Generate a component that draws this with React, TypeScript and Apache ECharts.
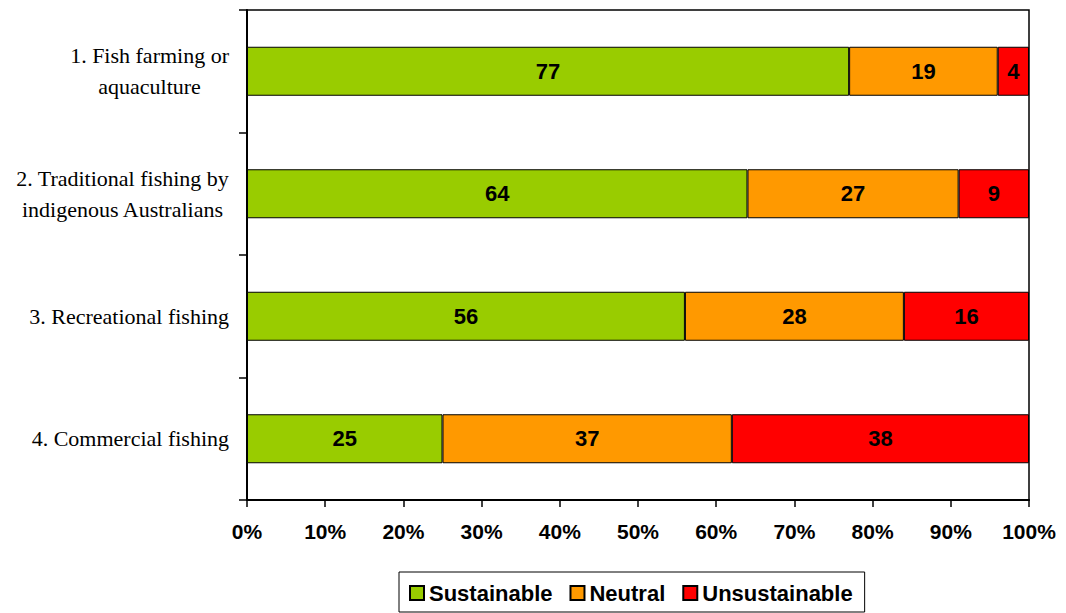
import React, { useEffect, useRef } from "react";
import * as echarts from "echarts";

const categories = [
  "1. Fish farming or\naquaculture",
  "2. Traditional fishing by\nindigenous Australians",
  "3. Recreational fishing",
  "4. Commercial fishing",
];
const sustainable = [77, 64, 56, 25];
const neutral = [19, 27, 28, 37];
const unsustainable = [4, 9, 16, 38];
const seriesNames = ["Sustainable", "Neutral", "Unsustainable"];
const seriesColors = ["#99CC00", "#FF9900", "#FF0000"];

export default function App() {
  const ref = useRef<HTMLDivElement>(null);
  useEffect(() => {
    if (!ref.current) return;
    const chart = echarts.init(ref.current, null, { renderer: "svg" });
    const sansBold = {
      fontFamily: "'Liberation Sans', Arial, sans-serif",
      fontWeight: "bold" as const,
      color: "#000",
    };
    const serif = "'Liberation Serif', 'Times New Roman', serif";
    const values = [sustainable, neutral, unsustainable];
    chart.setOption({
      animation: false,
      backgroundColor: "#fff",
      grid: {
        left: 247,
        right: 37,
        top: 10,
        bottom: 113,
        show: true,
        borderColor: "#000",
        borderWidth: 1.5,
        containLabel: false,
      },
      legend: {
        left: 399,
        top: 572,
        orient: "horizontal",
        data: seriesNames,
        icon: "rect",
        itemWidth: 14,
        itemHeight: 14,
        itemGap: 17,
        padding: [10, 12, 8, 10],
        borderColor: "#000",
        borderWidth: 1,
        textStyle: { ...sansBold, fontSize: 22 },
      },
      xAxis: {
        type: "value",
        min: 0,
        max: 100,
        interval: 10,
        axisLine: { show: true, lineStyle: { color: "#000", width: 2 } },
        axisTick: { show: true, length: 7, lineStyle: { color: "#000", width: 1.5 } },
        splitLine: { show: false },
        axisLabel: {
          ...sansBold,
          fontSize: 21,
          margin: 21,
          formatter: "{value}%",
        },
      },
      yAxis: {
        type: "category",
        inverse: true,
        data: categories,
        axisLine: { show: true, lineStyle: { color: "#000", width: 2 } },
        axisTick: { show: true, length: 8, inside: false, lineStyle: { color: "#000", width: 1.5 } },
        axisLabel: {
          margin: 18,
          align: "right",
          fontFamily: serif,
          fontSize: 22,
          color: "#000",
          lineHeight: 31,
          formatter: (v: string) =>
            v
              .split("\n")
              .map((l) => `{c|${l}}`)
              .join("\n"),
          rich: {
            c: {
              align: "center",
              fontFamily: serif,
              fontSize: 22,
              color: "#000",
              lineHeight: 31,
            },
          },
        },
      },
      series: seriesNames.map((name, i) => ({
        name,
        type: "bar",
        stack: "total",
        barWidth: "40%",
        data: values[i],
        itemStyle: { color: seriesColors[i], borderColor: "#000", borderWidth: 1 },
        label: {
          show: true,
          position: "inside",
          ...sansBold,
          fontSize: 22,
        },
      })),
    });
    return () => chart.dispose();
  }, []);
  return (
    <div
      ref={ref}
      style={{ position: "absolute", left: 0, top: 0, width: 1066, height: 613 }}
    />
  );
}
